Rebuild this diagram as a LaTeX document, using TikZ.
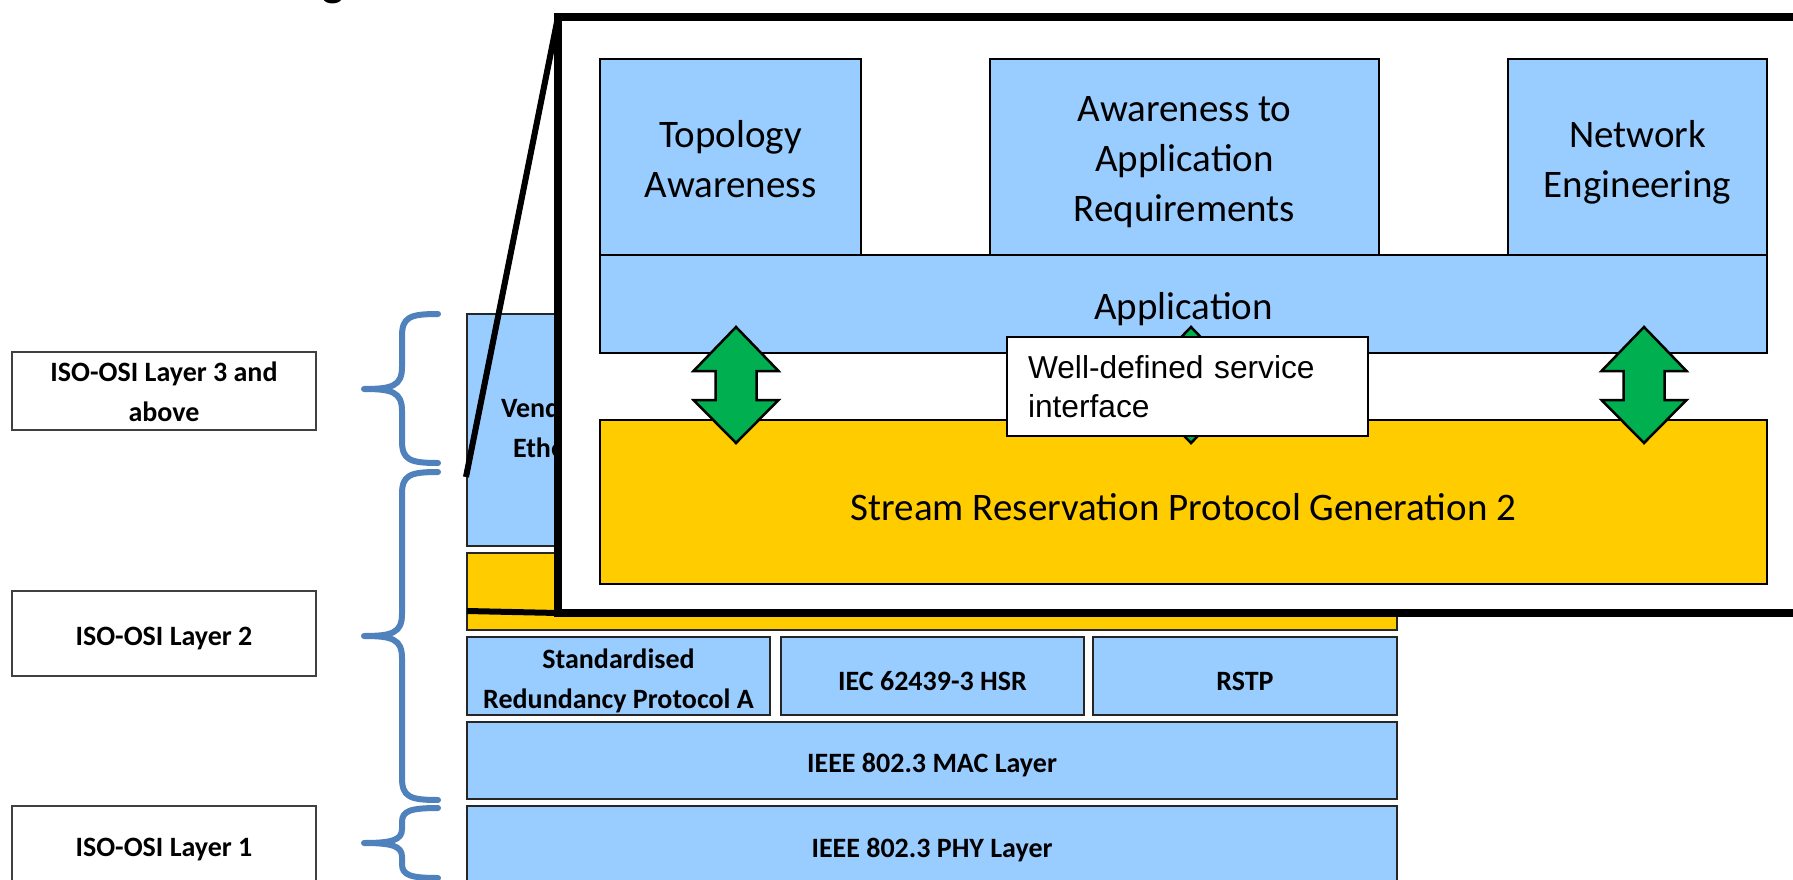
\documentclass[tikz,border=0pt]{standalone}
\usepackage{fontspec}
\setmainfont{Carlito}
\newfontfamily\arialf{Liberation Sans}
\definecolor{stackblue}{HTML}{99CCFF}
\definecolor{srpyellow}{HTML}{FFCC00}
\definecolor{arrowgreen}{HTML}{00B050}
\definecolor{braceblue}{HTML}{4F81BD}
\newcommand\lblfont{\bfseries\fontsize{28}{40}\selectfont}
\newcommand\inrfont{\fontsize{39}{50}\selectfont}
\newcommand\callfont{\arialf\fontsize{31.7}{39}\selectfont}
\tikzset{
  lbox/.style={draw=black!75, line width=2pt, fill=white, inner sep=0pt, outer sep=0pt},
  sbox/.style={draw=black!85, line width=1.8pt, fill=stackblue, inner sep=0pt, outer sep=0pt},
  ybox/.style={sbox, fill=srpyellow},
  ibox/.style={draw=black, line width=2.5pt, fill=stackblue, inner sep=0pt, outer sep=0pt},
  iybox/.style={ibox, fill=srpyellow},
  ltext/.style={font=\lblfont, align=center, inner sep=0pt, outer sep=0pt},
  itext/.style={font=\inrfont, align=center, inner sep=0pt, outer sep=0pt},
  framebox/.style={draw=black, line width=8pt, fill=white, inner sep=0pt, outer sep=0pt},
  callbox/.style={draw=black, line width=2pt, fill=white, font=\callfont, align=left, inner xsep=21pt, inner ysep=0pt, outer sep=0pt},
  bracestyle/.style={draw=braceblue, line width=6pt, line cap=round, line join=round},
  zoomline/.style={draw=black, line width=6pt},
  greenarr/.style={fill=arrowgreen, draw=black, line width=2.5pt, line join=miter},
}
% text placed slightly below the centre of a named box
\newcommand\boxtext[3]{\node[#1] (#2-t) at ([yshift=-5pt]#2.center) {#3};}
% brace: top, tip, bottom, radius
\newcommand\layerbrace[4]{%
  \draw[bracestyle] (438,#1) .. controls (410,#1) and (402,#1+3) .. (402,#1+#4)
    -- (402,#2-#4) .. controls (402,#2-3) and (392,#2) .. (364,#2)
    .. controls (392,#2) and (402,#2+3) .. (402,#2+#4)
    -- (402,#3-#4) .. controls (402,#3-3) and (410,#3) .. (438,#3);}
% double arrow centred at x
\newcommand\greenarrow[1]{%
  \draw[greenarr] (#1,327) -- (#1+42.5,371) -- (#1+20.5,371) -- (#1+20.5,400)
    -- (#1+42.5,400) -- (#1,443) -- (#1-42.5,400) -- (#1-20.5,400)
    -- (#1-20.5,371) -- (#1-42.5,371) -- cycle;}
\begin{document}
\begin{tikzpicture}[x=1pt, y=-1pt]
\useasboundingbox (0,0) rectangle (1793,880);
\fill[white] (0,0) rectangle (1793,880);

% cropped title glyph
\node[font=\arialf\fontsize{50}{60}\selectfont, anchor=base, inner sep=0pt] (ttl) at (333,-6.5) {g};

% ---- stack ----
\node[sbox, minimum width=303pt, minimum height=232pt] (vend) at (618.5,430) {};
\node[ltext, anchor=west] (vendt1) at (501,410) {Vendor-specific};
\node[ltext, anchor=west] (vendt2) at (513,448) {Ethernet};
\node[ybox, minimum width=930pt, minimum height=77pt] (yel) at (932,591.5) {};
\node[sbox, minimum width=303pt, minimum height=78pt] (std) at (618.5,676) {};
\node[sbox, minimum width=303pt, minimum height=78pt] (iec) at (932.5,676) {};
\node[sbox, minimum width=304pt, minimum height=78pt] (rstp) at (1245,676) {};
\node[sbox, minimum width=930pt, minimum height=77pt] (mac) at (932,760.5) {};
\node[sbox, minimum width=930pt, minimum height=78pt] (phy) at (932,845) {};
\boxtext{ltext}{std}{Standardised\\Redundancy Protocol A}
\boxtext{ltext}{iec}{IEC 62439-3 HSR}
\boxtext{ltext}{rstp}{RSTP}
\boxtext{ltext}{mac}{IEEE 802.3 MAC Layer}
\boxtext{ltext}{phy}{IEEE 802.3 PHY Layer}

% ---- braces ----
\layerbrace{314}{389}{463}{22}
\layerbrace{472}{636}{800}{22}
\layerbrace{808}{843}{878}{14}

% ---- labels ----
\node[lbox, minimum width=304pt, minimum height=78pt] (l3) at (164,391) {};
\node[lbox, minimum width=304pt, minimum height=85pt] (l2) at (164,633.5) {};
\node[lbox, minimum width=304pt, minimum height=78pt] (l1) at (164,845) {};
\node[ltext] (l3-t) at ([yshift=-1pt]l3.center) {ISO-OSI Layer 3 and\\above};
\boxtext{ltext}{l2}{ISO-OSI Layer 2}
\boxtext{ltext}{l1}{ISO-OSI Layer 1}

% ---- zoom frame ----
\node[framebox, minimum width=1250pt, minimum height=596pt, anchor=north west] (zf) at (558,17) {};
\coordinate (zA) at (466,477);
\coordinate (zB) at (467,611);
\draw[zoomline] (zA) -- (zf.north west);
\draw[zoomline] (zB) -- (zf.south west);

% ---- inner boxes ----
\node[ibox, minimum width=261pt, minimum height=196pt] (topo) at (730.5,157) {};
\node[ibox, minimum width=389pt, minimum height=196pt] (aware) at (1184.5,157) {};
\node[ibox, minimum width=259pt, minimum height=196pt] (net) at (1637.5,157) {};
\node[ibox, minimum width=1167pt, minimum height=98pt] (app) at (1183.5,304) {};
\node[iybox, minimum width=1167pt, minimum height=164pt] (srp) at (1183.5,502) {};
\node[itext] (topo-t) at ([yshift=-2pt]topo.center) {Topology\\Awareness};
\boxtext{itext}{aware}{Awareness to\\Application\\Requirements}
\boxtext{itext}{net}{Network\\Engineering}
\boxtext{itext}{app}{Application}
\boxtext{itext}{srp}{Stream Reservation Protocol Generation 2}

% ---- arrows ----
\greenarrow{736}
\greenarrow{1191}
\greenarrow{1644}

% ---- callout ----
\node[callbox, minimum height=99pt, text width=319pt] (call) at (1187.5,386.5) {Well-defined service\\interface};
\end{tikzpicture}
\end{document}
